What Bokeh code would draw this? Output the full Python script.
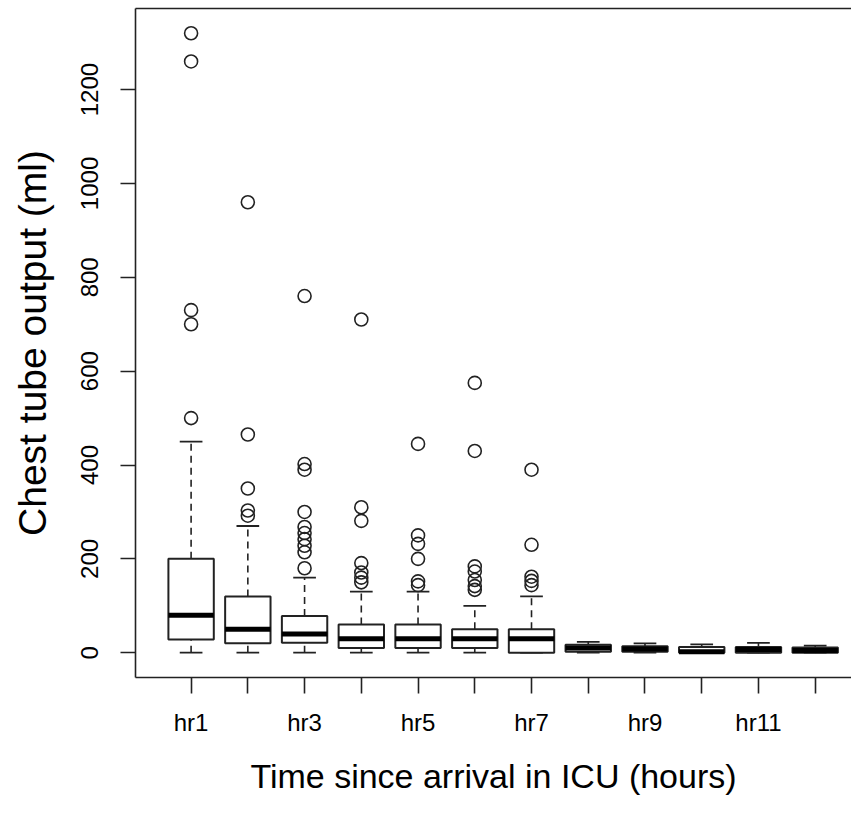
from bokeh.plotting import figure
from bokeh.models import FixedTicker, LinearAxis, Range1d
from bokeh.embed import file_html
from bokeh.resources import INLINE

# ---- data ----
hours = ["hr1", "hr2", "hr3", "hr4", "hr5", "hr6", "hr7", "hr8", "hr9", "hr10", "hr11", "hr12"]
shown_tick_labels = ["hr1", "", "hr3", "", "hr5", "", "hr7", "", "hr9", "", "hr11", ""]
whisker_low = [0, 0, 0, 0, 0, 0, 0, 0, 0, 0, 0, 0]
q1 = [28, 20, 21, 10, 10, 10, 0, 2, 2, 0, 0, 0]
median = [80, 50, 40, 30, 30, 30, 30, 10, 8, 2, 7, 5]
q3 = [200, 120, 78, 60, 60, 50, 50, 17, 14, 12, 12, 11]
whisker_high = [450, 270, 160, 130, 130, 100, 120, 23, 20, 18, 21, 15]
outliers = {
    "hr1": [500, 700, 730, 1260, 1320],
    "hr2": [292, 303, 350, 465, 960],
    "hr3": [180, 214, 228, 242, 255, 268, 300, 390, 402, 760],
    "hr4": [150, 160, 171, 191, 281, 310, 710],
    "hr5": [144, 152, 200, 232, 250, 445],
    "hr6": [134, 142, 155, 173, 184, 430, 575],
    "hr7": [144, 153, 162, 230, 390],
}
y_ticks = [0, 200, 400, 600, 800, 1000, 1200]
x_title = "Time since arrival in ICU (hours)"
y_title = "Chest tube output (ml)"

# ---- layout / style ----
pos = list(range(1, len(hours) + 1))
box_half = 0.4
cap_half = 0.2
ink = "#222222"
font = "Liberation Sans"

p = figure(width=851, height=801, output_backend="svg", toolbar_location=None,
           x_range=Range1d(0.02, 12.64), y_range=Range1d(-52.8, 1372.8),
           min_border_left=135, min_border_right=0, min_border_top=8,
           min_border_bottom=124, x_axis_location=None, y_axis_location=None)
p.grid.visible = False
p.outline_line_color = None
p.background_fill_color = "white"
p.border_fill_color = "white"

# whiskers
p.segment(x0=pos, x1=pos, y0=q3, y1=whisker_high, line_color=ink, line_width=1.6, line_dash="7 5")
p.segment(x0=pos, x1=pos, y0=whisker_low, y1=q1, line_color=ink, line_width=1.6, line_dash="7 5")
# caps
p.segment(x0=[x - cap_half for x in pos], x1=[x + cap_half for x in pos], y0=whisker_high, y1=whisker_high,
          line_color=ink, line_width=1.8)
p.segment(x0=[x - cap_half for x in pos], x1=[x + cap_half for x in pos], y0=whisker_low, y1=whisker_low,
          line_color=ink, line_width=1.8)
# boxes
p.quad(left=[x - box_half for x in pos], right=[x + box_half for x in pos], bottom=q1, top=q3,
       fill_color="white", line_color=ink, line_width=2)
# medians
p.segment(x0=[x - box_half for x in pos], x1=[x + box_half for x in pos], y0=median, y1=median,
          line_color="black", line_width=5)
# outliers
ox, oy = [], []
for i, h in enumerate(hours):
    for v in outliers.get(h, []):
        ox.append(pos[i])
        oy.append(v)
p.scatter(ox, oy, marker="circle", size=13, fill_color=None, line_color=ink, line_width=1.6)

# axes
yaxis = LinearAxis(ticker=FixedTicker(ticks=y_ticks), axis_label=y_title)
yaxis.major_label_orientation = "vertical"
xaxis = LinearAxis(ticker=FixedTicker(ticks=pos), axis_label=x_title)
xaxis.major_label_overrides = {pos[i]: shown_tick_labels[i] for i in range(len(pos))}
for ax in (yaxis, xaxis):
    ax.axis_line_color = ink
    ax.axis_line_width = 1.6
    ax.major_tick_line_color = ink
    ax.major_tick_line_width = 1.6
    ax.major_tick_in = 0
    ax.minor_tick_line_color = None
    ax.major_label_text_font = font
    ax.major_label_text_font_size = "24px"
    ax.major_label_text_color = "black"
    ax.axis_label_text_font = font
    ax.axis_label_text_font_style = "normal"
    ax.axis_label_text_color = "black"
yaxis.axis_label_text_font_size = "39px"
yaxis.major_tick_out = 15
yaxis.major_label_standoff = 22
yaxis.axis_label_standoff = 25
xaxis.axis_label_text_font_size = "34px"
xaxis.major_tick_out = 16
xaxis.major_label_standoff = 15
xaxis.axis_label_standoff = 18
p.add_layout(yaxis, "left")
p.add_layout(xaxis, "below")

top = LinearAxis(ticker=FixedTicker(ticks=[]))
top.axis_line_color = ink
top.axis_line_width = 1.6
top.major_tick_line_color = None
top.minor_tick_line_color = None
top.major_label_text_font_size = "0px"
top.major_label_standoff = 0
p.add_layout(top, "above")

open("out.html", "w").write(file_html(p, INLINE))
